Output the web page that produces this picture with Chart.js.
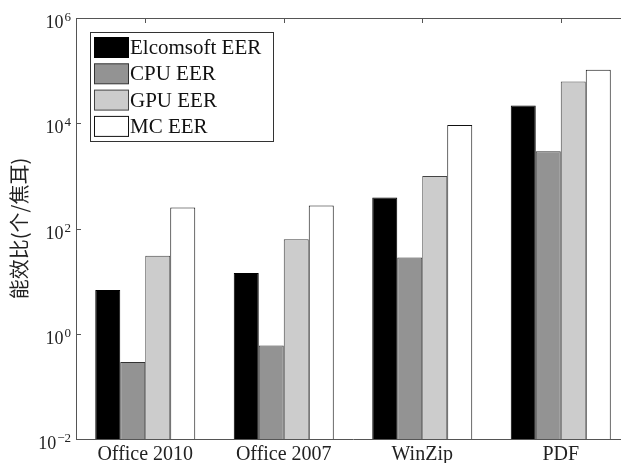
<!DOCTYPE html>
<html><head><meta charset="utf-8">
<script src="https://cdn.jsdelivr.net/npm/chart.js@4/dist/chart.umd.min.js"></script>
<style>
html,body{margin:0;padding:0;background:#fff;overflow:hidden;width:621px;height:463px}
#wrap{position:absolute;left:0;top:0;width:700px;height:463px}
</style>
</head><body><div id="wrap"><canvas id="c"></canvas></div>
<script>
const categories = ['Office 2010', 'Office 2007', 'WinZip', 'PDF'];
const seriesNames = ['Elcomsoft EER', 'CPU EER', 'GPU EER', 'MC EER'];
const elcomsoftEER = [6.8, 14.3, 390, 21700];
const cpuEER = [0.29, 0.60, 28, 2950];
const gpuEER = [30.5, 62.6, 1000, 62000];
const mcEER = [250, 273, 9300, 103500];
const yTickValues = [1e-2, 1e0, 1e2, 1e4, 1e6];
const yTickBase = '10';
const yTickExponents = ['−2', '0', '2', '4', '6'];
const yTitle = '能效比(个/焦耳)';

const fills = ['#000000', '#939393', '#cccccc', '#ffffff'];
const borders = ['#000000', '#333333', '#444444', '#111111'];
const seriesData = [elcomsoftEER, cpuEER, gpuEER, mcEER];

const serif = '"Liberation Serif", "DejaVu Serif", serif';

const decor = {
  id: 'decor',
  afterDraw(chart) {
    const ctx = chart.ctx, a = chart.chartArea;
    const xs = chart.scales.x, ys = chart.scales.y;
    ctx.save();
    ctx.strokeStyle = '#555';
    ctx.lineWidth = 1;
    // top axis line
    ctx.beginPath();
    ctx.moveTo(a.left, Math.round(a.top) + 0.5);
    ctx.lineTo(a.right, Math.round(a.top) + 0.5);
    ctx.stroke();
    // inward ticks on left axis + tick labels with exponents
    ys.ticks.forEach((t, i) => {
      const py = ys.getPixelForTick(i);
      const y = Math.round(py) + 0.5;
      ctx.beginPath(); ctx.moveTo(a.left, y); ctx.lineTo(a.left + 5, y); ctx.stroke();
      ctx.fillStyle = '#222';
      ctx.textAlign = 'left';
      ctx.textBaseline = 'alphabetic';
      const exp = yTickExponents[i];
      ctx.font = '13px ' + serif;
      const ew = ctx.measureText(exp).width;
      ctx.font = '18px ' + serif;
      const bw = ctx.measureText(yTickBase).width;
      const right = 71;
      const x0 = right - ew - bw - 1;
      ctx.fillText(yTickBase, x0, py + 10);
      ctx.font = '13px ' + serif;
      ctx.fillText(exp, x0 + bw + 1, py + 3);
    });
    // inward ticks on top axis
    xs.ticks.forEach((t, i) => {
      const x = Math.round(xs.getPixelForTick(i)) + 0.5;
      ctx.beginPath(); ctx.moveTo(x, a.top); ctx.lineTo(x, a.top + 5); ctx.stroke();
    });
    // legend box
    const lx = 90.5, ly = 32.5, lw = 183, lh = 109;
    ctx.fillStyle = '#fff';
    ctx.fillRect(lx, ly, lw, lh);
    ctx.strokeStyle = '#333';
    ctx.strokeRect(lx, ly, lw, lh);
    const rowTops = [37, 63.3, 89.6, 115.9];
    ctx.font = '21px ' + serif;
    ctx.textBaseline = 'middle';
    ctx.textAlign = 'left';
    chart.data.datasets.forEach((ds, i) => {
      const top = rowTops[i];
      ctx.fillStyle = ds.backgroundColor;
      ctx.fillRect(94.5, top + 0.5, 34, 20);
      ctx.strokeStyle = ds.borderColor;
      ctx.lineWidth = 1;
      ctx.strokeRect(94.5, top + 0.5, 34, 20);
      ctx.fillStyle = '#111';
      ctx.fillText(ds.label, 130, top + 11.5);
    });
    ctx.restore();
  }
};

new Chart(document.getElementById('c'), {
  type: 'bar',
  data: {
    labels: categories,
    datasets: seriesNames.map((name, i) => ({
      label: name,
      data: seriesData[i],
      backgroundColor: fills[i],
      borderColor: borders[i],
      borderWidth: 1,
      borderSkipped: 'bottom',
      categoryPercentage: 0.722,
      barPercentage: 1.0
    }))
  },
  options: {
    responsive: true,
    maintainAspectRatio: false,
    animation: false,
    layout: { padding: { top: 18, right: 70, left: 0, bottom: 0 } },
    plugins: { legend: { display: false }, tooltip: { enabled: false } },
    scales: {
      x: {
        type: 'category',
        offset: true,
        grid: { display: false, drawTicks: false },
        border: { display: true, color: '#555', width: 1 },
        ticks: { color: '#222', padding: 4, font: { family: serif, size: 20 }, maxRotation: 0 },
        afterFit(scale) { scale.height = 24; }
      },
      y: {
        type: 'logarithmic',
        min: 1e-2,
        max: 1e6,
        grid: { display: false, drawTicks: false },
        border: { display: true, color: '#555', width: 1 },
        afterBuildTicks(scale) { scale.ticks = yTickValues.map(v => ({ value: v })); },
        ticks: { display: false },
        title: {
          display: true,
          text: yTitle,
          color: '#222',
          padding: { top: 7, bottom: 4 },
          font: { family: '"Noto Sans CJK SC", sans-serif', size: 20 }
        },
        afterFit(scale) { scale.width = 76; }
      }
    }
  },
  plugins: [decor]
});
</script>
</body></html>
